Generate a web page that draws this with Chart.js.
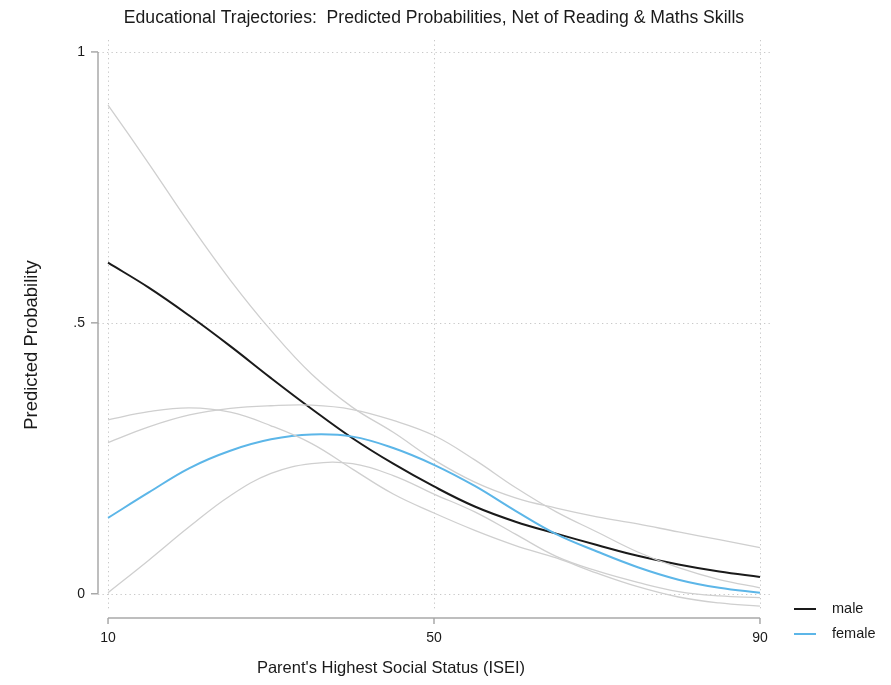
<!DOCTYPE html>
<html>
<head>
<meta charset="utf-8">
<script src="https://cdn.jsdelivr.net/npm/chart.js@4/dist/chart.umd.min.js"></script>
<style>
  html, body { margin: 0; padding: 0; background: #ffffff; }
  #wrap { width: 891px; height: 685px; position: relative; }
</style>
</head>
<body>
<div id="wrap"><canvas id="chart" width="891" height="685"></canvas></div>
<script>
// Parent's highest ISEI (x values)
const isei = [10, 15, 20, 25, 30, 35, 40, 45, 50, 55, 60, 65, 70, 75, 80, 85, 90];

// Predicted probabilities and 95% bounds, by sex
const maleProb  = [0.611, 0.565, 0.513, 0.457, 0.398, 0.341, 0.287, 0.240, 0.198, 0.161, 0.133, 0.111, 0.090, 0.070, 0.054, 0.041, 0.031];
const maleUpper = [0.902, 0.794, 0.683, 0.579, 0.486, 0.405, 0.344, 0.298, 0.247, 0.206, 0.177, 0.158, 0.142, 0.129, 0.114, 0.100, 0.085];
const maleLower = [0.321, 0.336, 0.343, 0.335, 0.310, 0.277, 0.230, 0.184, 0.149, 0.117, 0.089, 0.066, 0.038, 0.013, -0.006, -0.017, -0.023];

const femaleProb  = [0.140, 0.187, 0.232, 0.264, 0.285, 0.294, 0.290, 0.269, 0.238, 0.199, 0.153, 0.110, 0.078, 0.049, 0.026, 0.011, 0.002];
const femaleUpper = [0.279, 0.308, 0.330, 0.342, 0.347, 0.348, 0.340, 0.320, 0.292, 0.247, 0.196, 0.151, 0.114, 0.077, 0.048, 0.026, 0.011];
const femaleLower = [0.002, 0.062, 0.124, 0.181, 0.222, 0.240, 0.240, 0.218, 0.184, 0.151, 0.110, 0.069, 0.042, 0.021, 0.004, -0.004, -0.007];

// Axis ticks
const xTicks = [10, 50, 90];
const yTicks = [0, 0.5, 1];
const yTickLabels = ['0', '.5', '1'];

const seriesNames = ['male', 'female'];
const FONT = '"Liberation Sans", Arial, sans-serif';

const pts = arr => arr.map((v, i) => ({ x: isei[i], y: v }));

const ciStyle = {
  borderColor: '#cfcfcf',
  borderWidth: 1.3,
  pointRadius: 0,
  fill: false,
  tension: 0.4
};

const datasets = [
  Object.assign({ label: 'male upper',   data: pts(maleUpper) }, ciStyle),
  Object.assign({ label: 'male lower',   data: pts(maleLower) }, ciStyle),
  Object.assign({ label: 'female upper', data: pts(femaleUpper) }, ciStyle),
  Object.assign({ label: 'female lower', data: pts(femaleLower) }, ciStyle),
  { label: seriesNames[1], data: pts(femaleProb), borderColor: '#5cb6e8', borderWidth: 2,
    pointRadius: 0, fill: false, tension: 0.4 },
  { label: seriesNames[0], data: pts(maleProb), borderColor: '#1a1a1a', borderWidth: 2,
    pointRadius: 0, fill: false, tension: 0.4 }
];

// Dotted grid, offset axes, titles and legend
const decor = {
  id: 'decor',
  beforeDatasetsDraw(chart) {
    const { ctx, chartArea: a, scales: { x, y } } = chart;
    ctx.save();
    ctx.strokeStyle = '#c8c8c8';
    ctx.lineWidth = 1;
    ctx.setLineDash([1.3, 3.2]);
    xTicks.forEach(v => {
      const px = Math.round(x.getPixelForValue(v)) + 0.5;
      ctx.beginPath(); ctx.moveTo(px, a.top); ctx.lineTo(px, a.bottom); ctx.stroke();
    });
    yTicks.forEach(v => {
      const py = Math.round(y.getPixelForValue(v)) + 0.5;
      ctx.beginPath(); ctx.moveTo(a.left, py); ctx.lineTo(a.right, py); ctx.stroke();
    });
    ctx.restore();
  },
  afterDraw(chart) {
    const { ctx, chartArea: a, scales: { x, y } } = chart;
    ctx.save();
    // axes
    ctx.strokeStyle = '#a8a8a8';
    ctx.lineWidth = 1.5;
    ctx.setLineDash([]);
    const ax = a.left;
    ctx.beginPath();
    ctx.moveTo(ax, y.getPixelForValue(1));
    ctx.lineTo(ax, y.getPixelForValue(0));
    ctx.stroke();
    yTicks.forEach(v => {
      const py = y.getPixelForValue(v);
      ctx.beginPath(); ctx.moveTo(ax - 7, py); ctx.lineTo(ax, py); ctx.stroke();
    });
    const by = a.bottom + 8;
    ctx.beginPath();
    ctx.moveTo(x.getPixelForValue(10), by);
    ctx.lineTo(x.getPixelForValue(90), by);
    ctx.stroke();
    xTicks.forEach(v => {
      const px = x.getPixelForValue(v);
      ctx.beginPath(); ctx.moveTo(px, by); ctx.lineTo(px, by + 6); ctx.stroke();
    });

    // titles
    ctx.fillStyle = '#1a1a1a';
    ctx.textAlign = 'center';
    ctx.textBaseline = 'middle';
    ctx.font = '17.6px ' + FONT;
    ctx.fillText('Educational Trajectories:  Predicted Probabilities, Net of Reading & Maths Skills', 434, 18);
    ctx.font = '16.5px ' + FONT;
    ctx.fillText("Parent's Highest Social Status (ISEI)", 391, 668);
    ctx.save();
    ctx.translate(32, 345);
    ctx.rotate(-Math.PI / 2);
    ctx.font = '18.5px ' + FONT;
    ctx.fillText('Predicted Probability', 0, 0);
    ctx.restore();

    // legend
    const legendRows = [
      { ds: chart.data.datasets.find(d => d.label === seriesNames[0]), y: 609 },
      { ds: chart.data.datasets.find(d => d.label === seriesNames[1]), y: 634 }
    ];
    ctx.textAlign = 'left';
    ctx.font = '14.5px ' + FONT;
    legendRows.forEach(r => {
      ctx.strokeStyle = r.ds.borderColor;
      ctx.lineWidth = 2;
      ctx.beginPath(); ctx.moveTo(794, r.y); ctx.lineTo(816, r.y); ctx.stroke();
      ctx.fillStyle = '#1a1a1a';
      ctx.fillText(r.ds.label, 832, r.y);
    });
    ctx.restore();
  }
};

new Chart(document.getElementById('chart'), {
  type: 'line',
  data: { datasets },
  options: {
    responsive: false,
    animation: false,
    events: [],
    layout: { padding: { left: 0, right: 121, top: 40, bottom: 0 } },
    plugins: { legend: { display: false }, title: { display: false }, tooltip: { enabled: false } },
    scales: {
      x: {
        type: 'linear',
        min: 8.77,
        max: 91.23,
        grid: { display: false, drawTicks: false },
        border: { display: false },
        afterFit: s => { s.height = 75; },
        afterBuildTicks: s => { s.ticks = xTicks.map(v => ({ value: v })); },
        ticks: {
          padding: 20,
          color: '#1a1a1a',
          font: { family: FONT, size: 14 },
          maxRotation: 0,
          callback: v => String(v)
        }
      },
      y: {
        type: 'linear',
        min: -0.03,
        max: 1.022,
        grid: { display: false, drawTicks: false },
        border: { display: false },
        afterFit: s => { s.width = 98; },
        afterBuildTicks: s => { s.ticks = yTicks.map(v => ({ value: v })); },
        ticks: {
          padding: 13,
          color: '#1a1a1a',
          font: { family: FONT, size: 14 },
          callback: v => yTickLabels[yTicks.indexOf(v)]
        }
      }
    }
  },
  plugins: [decor]
});
</script>
</body>
</html>
